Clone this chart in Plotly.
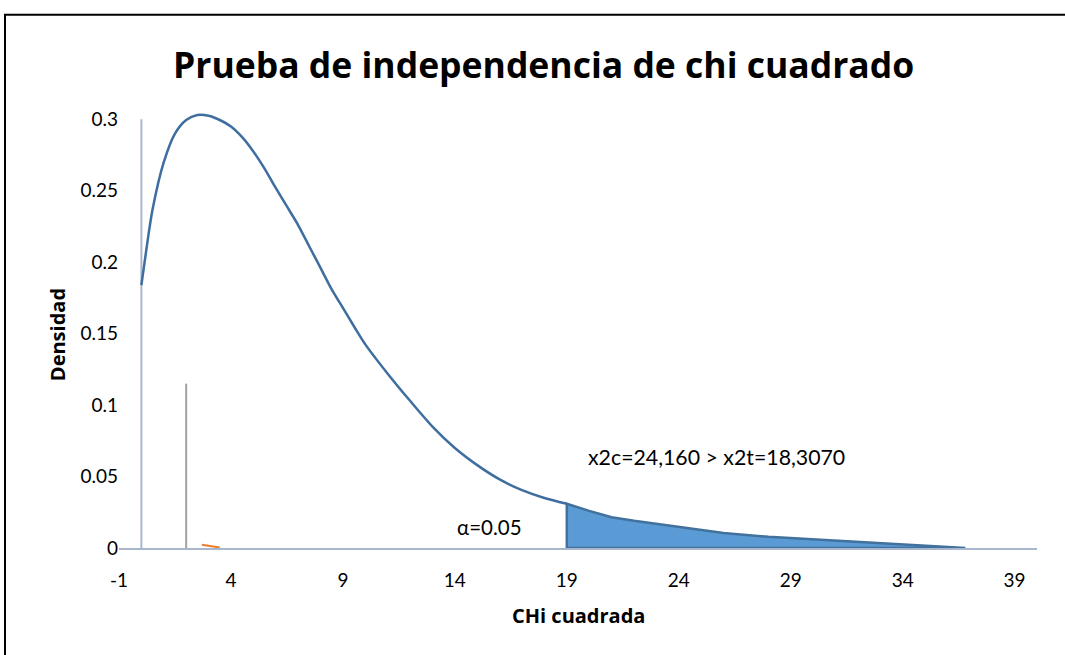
import plotly.graph_objects as go

# ---- data ----
curve_x = [0, 0.25, 0.5, 1, 1.5, 2, 2.5, 3, 3.5, 4, 4.5, 5, 5.5, 6, 6.5, 7, 7.5, 8, 8.5, 9, 9.5,
           10, 11, 12, 13, 14, 15, 16, 17, 18, 19]
curve_y = [0.184, 0.212, 0.237, 0.270, 0.290, 0.2995, 0.303, 0.3025, 0.2995, 0.295, 0.2875, 0.2775, 0.2655,
           0.252, 0.239, 0.226, 0.211, 0.196, 0.181, 0.168, 0.155,
           0.1425, 0.122, 0.103, 0.085, 0.070, 0.058, 0.048, 0.0405, 0.035, 0.031]

tail_x = [19, 19, 20, 21, 22, 24, 26, 28, 30, 32, 34, 36, 36.8, 19]
tail_y = [0, 0.031, 0.026, 0.0215, 0.019, 0.0145, 0.0105, 0.0078, 0.006, 0.0042, 0.0025, 0.001, 0, 0]

bar_x = [2, 2]
bar_y = [0, 0.115]

orange_x = [2.7, 3.5]
orange_y = [0.0022, 0.0003]

x_ticks = [-1, 4, 9, 14, 19, 24, 29, 34, 39]
y_ticks = [0, 0.05, 0.1, 0.15, 0.2, 0.25, 0.3]
y_tick_text = ["0", "0.05", "0.1", "0.15", "0.2", "0.25", "0.3"]

title_text = "Prueba de independencia de chi cuadrado"
x_title = "CHi cuadrada"
y_title = "Densidad"
alpha_text = "α=0.05"
result_text = "x2c=24,160 > x2t=18,3070"

# ---- layout helpers (screen pixel coords) ----
W, H = 1065, 655
SL, SR, ST, SB = 119, 1037, 104.7, 548   # plot area in screen pixels
L, T = SL, ST
R = W - SR
B = H - SB
PW, PH = SR - SL, SB - ST

def px(x):
    return (x - SL) / PW

def py(y):
    return (SB - y) / PH

FONT = "Lato, 'Open Sans', sans-serif"
TFONT = "'Open Sans', Lato, sans-serif"
AXC = "#A8B7CE"

fig = go.Figure()

fig.add_trace(go.Scatter(x=tail_x, y=tail_y, mode="lines", fill="toself",
                         fillcolor="#5B9BD5", line=dict(color="#41719C", width=2.5),
                         showlegend=False, hoverinfo="skip"))
fig.add_trace(go.Scatter(x=curve_x, y=curve_y, mode="lines",
                         line=dict(color="#3E6E9F", width=2.5, shape="spline", smoothing=0.8),
                         showlegend=False))
fig.add_trace(go.Scatter(x=bar_x, y=bar_y, mode="lines", line=dict(color="#A0A0A6", width=2),
                         showlegend=False))
fig.add_trace(go.Scatter(x=orange_x, y=orange_y, mode="lines", line=dict(color="#ED7D31", width=2),
                         showlegend=False))

shapes = [
    dict(type="line", xref="x", yref="y", x0=0, x1=0, y0=0, y1=0.3,
         line=dict(color=AXC, width=2), layer="below"),
    dict(type="line", xref="paper", yref="paper", x0=px(5), x1=px(5), y0=py(14.5), y1=py(670),
         line=dict(color="black", width=2)),
    dict(type="line", xref="paper", yref="paper", x0=px(4), x1=px(1080), y0=py(14.5), y1=py(14.5),
         line=dict(color="black", width=2)),
]

annotations = [
    dict(text="<b>" + title_text + "</b>", xref="paper", yref="paper", x=px(543), y=py(64),
         xanchor="center", yanchor="middle", showarrow=False, font=dict(family=TFONT, size=35.5, color="black")),
    dict(text="<b>" + x_title + "</b>", xref="paper", yref="paper", x=px(578), y=py(616),
         xanchor="center", yanchor="middle", showarrow=False, font=dict(family=TFONT, size=20, color="black")),
    dict(text="<b>" + y_title + "</b>", xref="paper", yref="paper", x=px(57), y=py(334),
         xanchor="center", yanchor="middle", showarrow=False, textangle=-90,
         font=dict(family=TFONT, size=20, color="black")),
    dict(text=alpha_text, xref="x", yref="y", x=15.55, y=0.0147, xanchor="center", yanchor="middle",
         showarrow=False, font=dict(family=FONT, size=20.5, color="black")),
    dict(text=result_text, xref="x", yref="y", x=25.7, y=0.064, xanchor="center", yanchor="middle",
         showarrow=False, font=dict(family=FONT, size=21.3, color="black")),
]

fig.update_layout(
    width=W, height=H,
    margin=dict(l=L, r=R, t=T, b=B, autoexpand=False),
    paper_bgcolor="white", plot_bgcolor="white",
    showlegend=False,
    shapes=shapes,
    annotations=annotations,
    font=dict(family=FONT, color="black"),
    xaxis=dict(range=[-1, 40], tickmode="array", tickvals=x_ticks, ticktext=[str(v) for v in x_ticks],
               showgrid=False, zeroline=False, showline=True, linecolor=AXC, linewidth=2,
               ticks="", tickfont=dict(family=FONT, size=19, color="black"), ticklabelstandoff=14),
    yaxis=dict(range=[0, 0.31], tickmode="array", tickvals=y_ticks, ticktext=y_tick_text,
               showgrid=False, zeroline=False, showline=False,
               ticks="", tickfont=dict(family=FONT, size=19, color="black"), ticklabelstandoff=0),
)

fig.write_html("out.html", config={"displayModeBar": False},
               post_script="document.body.style.margin='0';")
